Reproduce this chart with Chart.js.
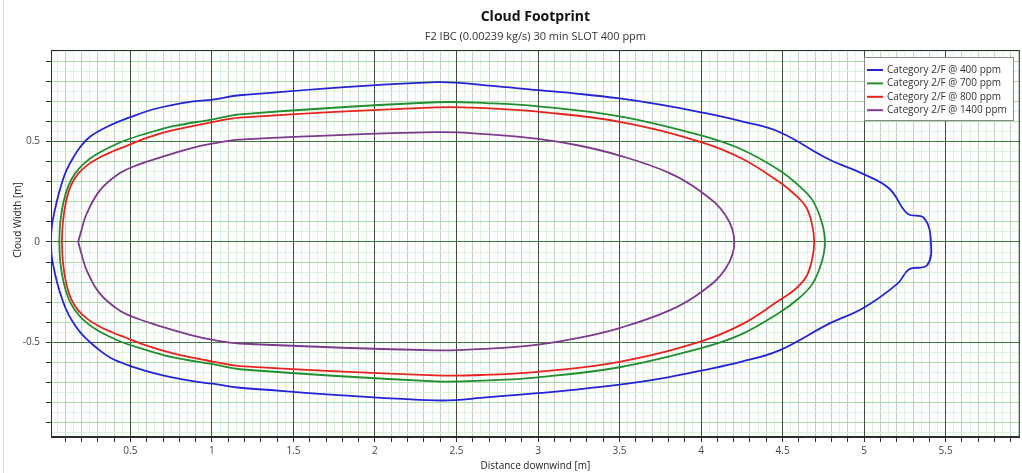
<!DOCTYPE html>
<html><head><meta charset="utf-8">
<script src="https://cdn.jsdelivr.net/npm/chart.js@4/dist/chart.umd.min.js"></script>
<style>html,body{margin:0;padding:0;background:#fff;}#wrap{width:1022px;height:473px;position:relative;}</style>
</head><body><div id="wrap"><canvas id="c" width="1022" height="473"></canvas></div>
<script>
// ---------- data ----------
const seriesLabels = ['Category 2/F @ 400 ppm','Category 2/F @ 700 ppm','Category 2/F @ 800 ppm','Category 2/F @ 1400 ppm'];
const seriesColors = ['#2424d6','#1f8f2f','#e8231d','#7d3a8e'];

const x400Upper = [0.013,0.015,0.022,0.048,0.082,0.11,0.15,0.19,0.25,0.354,0.503,0.66,0.865,1.005,1.171,2.37,2.7,3.0,3.25,3.5,3.75,4.0,4.25,4.48,4.786,4.99,5.154,5.266,5.368,5.41];
const y400Upper = [0,0.05,0.1,0.2,0.3,0.36,0.42,0.47,0.522,0.572,0.622,0.664,0.697,0.708,0.73,0.795,0.778,0.755,0.737,0.714,0.683,0.645,0.6,0.547,0.41,0.34,0.266,0.141,0.119,0];
const x400Lower = [5.386,5.276,5.205,4.99,4.786,4.48,4.25,4.0,3.75,3.5,3.25,3.0,2.7,2.37,1.171,1.005,0.865,0.68,0.52,0.38,0.29,0.215,0.165,0.12,0.088,0.05,0.023,0.016,0.013];
const y400Lower = [-0.116,-0.136,-0.207,-0.331,-0.406,-0.539,-0.595,-0.64,-0.68,-0.71,-0.733,-0.752,-0.772,-0.788,-0.725,-0.705,-0.69,-0.66,-0.622,-0.577,-0.525,-0.47,-0.42,-0.36,-0.3,-0.2,-0.1,-0.06,0];

const x700Upper = [0.064,0.07,0.09,0.12,0.16,0.215,0.28,0.37,0.47,0.6,0.762,1.007,1.171,2.37,2.7,3.0,3.5,4.0,4.25,4.48,4.6,4.684,4.74,4.76];
const y700Upper = [0,0.1,0.2,0.28,0.34,0.39,0.43,0.47,0.506,0.54,0.576,0.61,0.635,0.695,0.69,0.675,0.625,0.53,0.46,0.357,0.28,0.207,0.1,0];
const x700Lower = [4.74,4.684,4.6,4.48,4.25,4.0,3.5,3.0,2.7,2.37,1.171,1.007,0.762,0.6,0.47,0.37,0.28,0.215,0.16,0.12,0.09,0.07,0.064];
const y700Lower = [-0.1,-0.207,-0.28,-0.352,-0.458,-0.528,-0.623,-0.673,-0.688,-0.693,-0.633,-0.608,-0.574,-0.538,-0.505,-0.47,-0.43,-0.39,-0.34,-0.28,-0.2,-0.1,0];

const x800Upper = [0.08,0.086,0.105,0.135,0.18,0.24,0.31,0.39,0.47,0.6,0.762,1.007,1.171,2.37,2.7,3.0,3.5,4.0,4.25,4.48,4.57,4.644,4.68,4.694];
const y800Upper = [0,0.1,0.2,0.28,0.34,0.385,0.42,0.45,0.476,0.518,0.556,0.597,0.619,0.67,0.665,0.648,0.598,0.497,0.415,0.298,0.24,0.174,0.09,0];
const x800Lower = [4.68,4.644,4.57,4.48,4.25,4.0,3.5,3.0,2.7,2.37,1.171,1.007,0.762,0.6,0.47,0.39,0.31,0.24,0.18,0.135,0.105,0.086,0.08];
const y800Lower = [-0.09,-0.174,-0.24,-0.29,-0.41,-0.494,-0.596,-0.646,-0.66,-0.663,-0.617,-0.595,-0.554,-0.516,-0.475,-0.45,-0.42,-0.385,-0.34,-0.28,-0.2,-0.1,0];

const x1400Upper = [0.18,0.2,0.232,0.313,0.436,0.55,0.66,0.865,1.007,1.171,2.37,2.7,3.0,3.25,3.5,3.8,4.0,4.15,4.204];
const y1400Upper = [0,0.06,0.141,0.257,0.343,0.385,0.415,0.465,0.49,0.509,0.546,0.535,0.513,0.48,0.43,0.345,0.25,0.133,0];
const x1400Lower = [4.15,4.0,3.8,3.5,3.25,3.0,2.7,2.37,1.171,1.007,0.865,0.66,0.55,0.436,0.313,0.232,0.2,0.18];
const y1400Lower = [-0.133,-0.25,-0.343,-0.428,-0.477,-0.51,-0.53,-0.539,-0.505,-0.487,-0.462,-0.413,-0.383,-0.342,-0.257,-0.141,-0.06,0];

const xTickLabels = [0.5,1,1.5,2,2.5,3,3.5,4,4.5,5,5.5];
const yTickLabels = [-0.5,0,0.5];

const X_MIN = 0.013, X_MAX = 5.955, Y_MIN = -0.97, Y_MAX = 0.955;

const chartTitle = 'Cloud Footprint';
const chartSubtitle = 'F2 IBC (0.00239 kg/s) 30 min SLOT 400 ppm';
const xTitle = 'Distance downwind [m]';
const yTitle = 'Cloud Width [m]';

// ---------- build datasets ----------
function pts(xu, yu, xl, yl){
  const out = [];
  for (let i=0;i<xu.length;i++) out.push({x:xu[i], y:yu[i]});
  for (let i=0;i<xl.length;i++) out.push({x:xl[i], y:yl[i]});
  return out;
}
const rawSeries = [
  pts(x400Upper,y400Upper,x400Lower,y400Lower),
  pts(x700Upper,y700Upper,x700Lower,y700Lower),
  pts(x800Upper,y800Upper,x800Lower,y800Lower),
  pts(x1400Upper,y1400Upper,x1400Lower,y1400Lower)
];
const datasets = rawSeries.map((d,i)=>({
  label: seriesLabels[i], data: d, showLine:true, fill:false,
  borderColor: seriesColors[i], backgroundColor: seriesColors[i],
  borderWidth: 1.8, pointRadius:0, tension:0.4, borderJoinStyle:'round'
}));

const FONT = "'Open Sans', 'Noto Sans', sans-serif";

function gridTicks(min,max){
  const t=[]; for(let i=Math.ceil(min*20); i<=Math.floor(max*20); i++) t.push({value:i/20}); return t;
}
function level(v){ const k=Math.round(v*20); if(k%10===0) return 2; if(k%2===0) return 1; return 0; }
function isLabel(v, arr){ return arr.some(a=>Math.abs(a-v)<1e-6); }
function align(p){ return Math.round(p-0.5)+0.5; }

const decorPlugin = {
  id:'decor',
  beforeDatasetsDraw(chart){
    const {ctx, chartArea:a, scales} = chart;
    ctx.save();
    ctx.lineWidth=1;
    scales.x.ticks.forEach(t=>{
      if(level(t.value)!==2) return;
      const px = align(scales.x.getPixelForValue(t.value));
      ctx.strokeStyle='#3e4f3e';
      ctx.beginPath(); ctx.moveTo(px,a.top); ctx.lineTo(px,a.bottom); ctx.stroke();
    });
    scales.y.ticks.forEach(t=>{
      if(level(t.value)!==2) return;
      const py = align(scales.y.getPixelForValue(t.value));
      ctx.strokeStyle='#3f7a3f';
      ctx.beginPath(); ctx.moveTo(a.left,py); ctx.lineTo(a.right,py); ctx.stroke();
    });
    ctx.strokeStyle='#2b2b2b';
    ctx.strokeRect(a.left+0.5, a.top+0.5, a.right-a.left-1, a.bottom-a.top-1);
    ctx.restore();
  },
  afterDraw(chart){
    const {ctx, chartArea:a} = chart;
    const cx = (a.left+a.right)/2;
    ctx.save();
    ctx.strokeStyle='#d8d8d8'; ctx.lineWidth=1;
    ctx.beginPath(); ctx.moveTo(3.5,0); ctx.lineTo(3.5,473); ctx.stroke();
    ctx.fillStyle='#111'; ctx.textAlign='center'; ctx.textBaseline='middle';
    ctx.font = "bold 14px "+FONT; ctx.fillText(chartTitle, cx, 17);
    ctx.fillStyle='#333'; ctx.font = "11px "+FONT; ctx.fillText(chartSubtitle, cx, 37);
    ctx.fillStyle='#222'; ctx.font = "10px "+FONT;
    ctx.fillText(xTitle, cx, 466);
    ctx.save(); ctx.translate(18, 220); ctx.rotate(-Math.PI/2); ctx.fillText(yTitle, 0, 0); ctx.restore();
    const bx=864, by=57, bw=150, bh=64;
    ctx.fillStyle='#fff'; ctx.fillRect(bx,by,bw,bh);
    ctx.strokeStyle='#8a8a8a'; ctx.strokeRect(bx+0.5,by+0.5,bw-1,bh-1);
    ctx.font = "10px "+FONT; ctx.textAlign='left';
    chart.data.datasets.forEach((ds,i)=>{
      const y = 70 + i*13.4;
      ctx.strokeStyle = ds.borderColor; ctx.lineWidth=2;
      ctx.beginPath(); ctx.moveTo(867,y); ctx.lineTo(883,y); ctx.stroke();
      ctx.fillStyle='#333'; ctx.fillText(ds.label, 887, y);
    });
    ctx.restore();
  }
};

new Chart(document.getElementById('c'), {
  type:'scatter',
  data:{datasets},
  options:{
    responsive:false, animation:false,
    layout:{padding:{top:50,right:2,bottom:0,left:0}},
    plugins:{legend:{display:false}, title:{display:false}, tooltip:{enabled:false}},
    scales:{
      x:{
        type:'linear', min:X_MIN, max:X_MAX,
        afterBuildTicks(s){ s.ticks = gridTicks(X_MIN,X_MAX); },
        afterFit(s){ s.height = 36; },
        ticks:{autoSkip:false, maxRotation:0, minRotation:0, padding:3, color:'#444',
          font:{family:FONT,size:10},
          callback:(v)=> isLabel(v,xTickLabels) ? String(+v.toFixed(2)) : ''},
        grid:{
          color:(c)=>{const l=level(c.tick.value); return l===2?'#3e4f3e':(l===1?'#c9cfc9':'#dcf2dc');},
          tickColor:(c)=>{const l=level(c.tick.value); return l===0?'rgba(0,0,0,0)':'#333';},
          tickLength:5, lineWidth:1
        },
        border:{display:true,color:'#2b2b2b'}
      },
      y:{
        type:'linear', min:Y_MIN, max:Y_MAX,
        afterBuildTicks(s){ s.ticks = gridTicks(Y_MIN,Y_MAX); },
        afterFit(s){ s.width = 51; },
        ticks:{autoSkip:false, padding:6, color:'#444', font:{family:FONT,size:10},
          callback:(v)=> isLabel(v,yTickLabels) ? String(+v.toFixed(2)) : ''},
        grid:{
          color:(c)=>{const l=level(c.tick.value); return l===2?'#3f7a3f':(l===1?'#a9dba9':'#dcf2dc');},
          tickColor:(c)=>{const l=level(c.tick.value); return l===0?'rgba(0,0,0,0)':'#333';},
          tickLength:5, lineWidth:1
        },
        border:{display:true,color:'#2b2b2b'}
      }
    }
  },
  plugins:[decorPlugin]
});
</script></body></html>
